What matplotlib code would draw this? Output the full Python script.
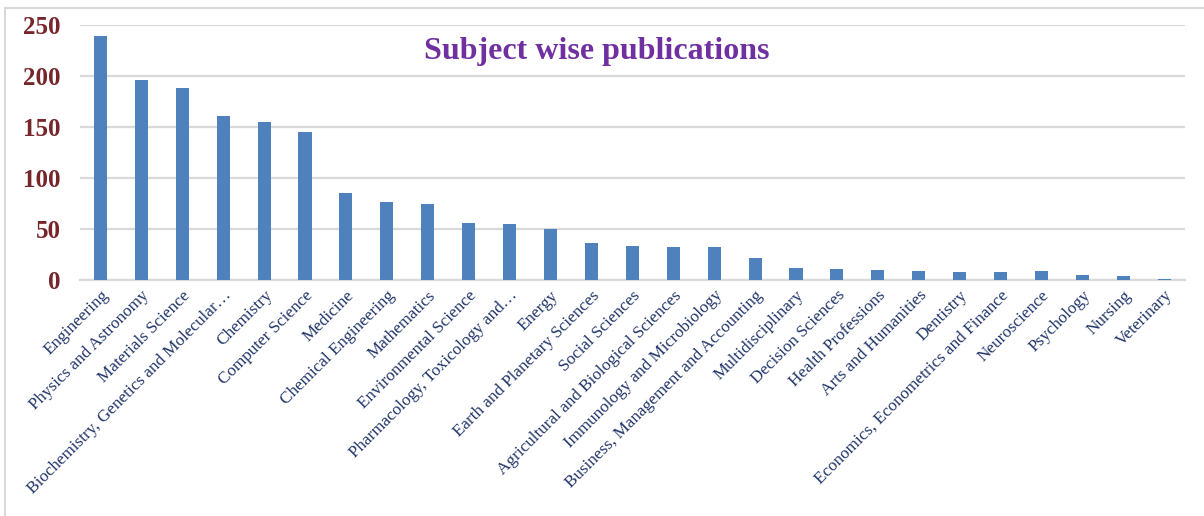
import matplotlib.pyplot as plt
from matplotlib.lines import Line2D

# subjects and publication counts
subjects = [
    'Engineering', 'Physics and Astronomy', 'Materials Science',
    'Biochemistry, Genetics and Molecular…', 'Chemistry', 'Computer Science',
    'Medicine', 'Chemical Engineering', 'Mathematics', 'Environmental Science',
    'Pharmacology, Toxicology and…', 'Energy', 'Earth and Planetary Sciences',
    'Social Sciences', 'Agricultural and Biological Sciences',
    'Immunology and Microbiology', 'Business, Management and Accounting',
    'Multidisciplinary', 'Decision Sciences', 'Health Professions',
    'Arts and Humanities', 'Dentistry', 'Economics, Econometrics and Finance',
    'Neuroscience', 'Psychology', 'Nursing', 'Veterinary',
]
counts = [239, 196, 188, 161, 155, 145, 86, 77, 75, 56, 55, 50, 37, 34, 33,
          33, 22, 12, 11, 10, 9, 8, 8, 9, 5, 4, 1]
yticks = [0, 50, 100, 150, 200, 250]

grid_col = '#D9D9D9'

fig = plt.figure(figsize=(12.04, 5.16), dpi=100)
ax = fig.add_axes([0.0664, 0.4564, 0.9176, 0.4952])

x = range(len(subjects))
ax.bar(x, counts, width=0.32, color='#4F81BD', zorder=3)

ax.set_xlim(-0.5, len(subjects) - 0.5)
ax.set_ylim(0, 250)
ax.set_yticks(yticks)
ax.set_yticklabels([str(v) for v in yticks], family='Liberation Serif',
                   fontweight='bold', fontsize=18, color='#76262A')
ax.set_xticks(list(x))
ax.set_xticklabels(subjects, rotation=45, ha='right', rotation_mode='anchor',
                   family='Liberation Serif', fontsize=12.3, color='#1F3468')
ax.tick_params(axis='y', length=0, pad=14)
ax.tick_params(axis='x', length=0, pad=5)

ax.grid(axis='y', color=grid_col, linewidth=1.6, zorder=0)
for s in ['top', 'right', 'left']:
    ax.spines[s].set_visible(False)
ax.spines['bottom'].set_color(grid_col)
ax.spines['bottom'].set_linewidth(1.6)

fig.text(0.496, 0.9, 'Subject wise publications', ha='center', va='center',
         family='Liberation Serif', fontweight='bold', fontsize=23,
         color='#7030A0')

# chart area border (top and left edges only visible)
fig.add_artist(Line2D([0.004, 1.0], [0.984, 0.984], color=grid_col, lw=1.5))
fig.add_artist(Line2D([0.004, 0.004], [0.0, 0.984], color=grid_col, lw=1.5))

fig.savefig('out.png', dpi=100)
